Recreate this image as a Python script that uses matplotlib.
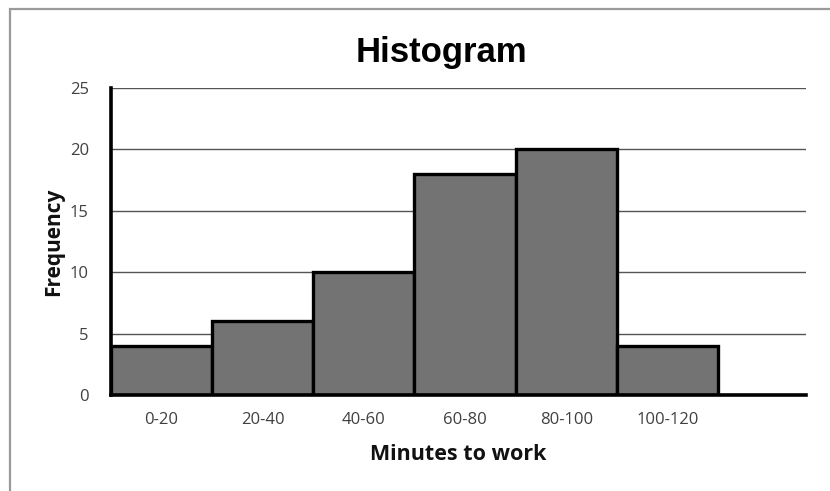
import matplotlib
matplotlib.use("Agg")
from matplotlib import pyplot as plt
from matplotlib.patches import Rectangle

bins = ['0-20', '20-40', '40-60', '60-80', '80-100', '100-120']
counts = [4, 6, 10, 18, 20, 4]
yticks = [0, 5, 10, 15, 20, 25]

fig = plt.figure(figsize=(8.3, 4.91), dpi=100)

# outer frame, cut off at right and bottom like the screenshot
fig.patches.append(Rectangle((10 / 830, -0.1), 1.2, 1 - 9 / 491 + 0.1,
                             transform=fig.transFigure, fill=False,
                             edgecolor='#9a9a9a', linewidth=1.6))

ax = fig.add_axes([111 / 830, 1 - 395 / 491, (806 - 111) / 830, (395 - 88) / 491])

x = list(range(len(bins)))
ax.bar(x, counts, width=1.0, color='#737373', edgecolor='black', linewidth=2.4, zorder=3)

ax.set_xlim(-0.5, 6.37)
ax.set_ylim(0, 25)
ax.set_yticks(yticks)
ax.set_xticks(x)
ax.set_xticklabels(bins)
ax.yaxis.grid(True, color='#555555', linewidth=1.0, zorder=0)
ax.set_axisbelow(True)

for s in ['top', 'right']:
    ax.spines[s].set_visible(False)
for s in ['left', 'bottom']:
    ax.spines[s].set_linewidth(2.6)
    ax.spines[s].set_color('black')
    ax.spines[s].set_zorder(4)

ax.tick_params(length=0, labelsize=12, labelcolor='#404040')
ax.tick_params(axis='y', pad=16)
ax.tick_params(axis='x', pad=12)
for lbl in ax.get_xticklabels() + ax.get_yticklabels():
    lbl.set_family('Open Sans')

ax.set_xlabel('Minutes to work', fontsize=15.5, fontweight='bold', family='Open Sans', labelpad=12, color='#111111')
ax.set_ylabel('Frequency', fontsize=15, fontweight='bold', family='Open Sans', labelpad=4, color='#111111')
fig.text(441 / 830, 1 - 62 / 491, 'Histogram', ha='center', va='baseline',
         fontsize=25, fontweight='bold', family='Liberation Sans')

fig.savefig('out.png', dpi=100)
